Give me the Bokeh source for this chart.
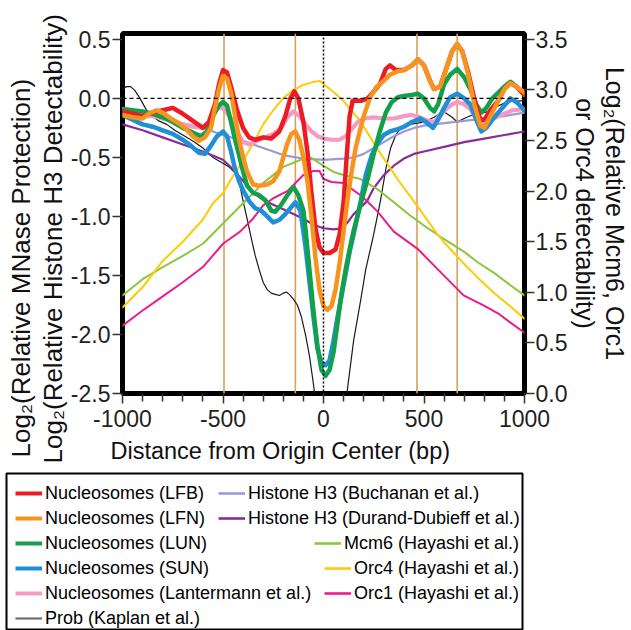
from bokeh.plotting import figure
from bokeh.models import (LinearAxis, Range1d, FixedTicker, Span, Title, Legend,
                          LegendItem, NumeralTickFormatter)
from bokeh.layouts import column
from bokeh.embed import file_html
from bokeh.resources import INLINE

FONT = "Liberation Sans"

# ---------------- data (left axis units unless noted) ----------------
lfb_x = [-1000, -950, -900, -850, -800, -750, -700, -650, -600, -570, -540, -520, -500, -480, -460, -430,
         -400, -370, -340, -300, -260, -220, -190, -165, -145, -125, -100, -80, -60, -40, -20, 0, 30, 60,
         80, 100, 115, 130, 145, 190, 220, 250, 280, 310, 330, 360, 400, 440, 470, 500, 530, 550, 580,
         610, 640, 665, 690, 720, 750, 780, 800, 830, 870, 900, 930, 960, 1000]
lfb_y = [-0.11, -0.13, -0.15, -0.12, -0.10, -0.08, -0.13, -0.19, -0.25, -0.20, -0.05, 0.12, 0.24, 0.22,
         0.10, -0.10, -0.25, -0.33, -0.35, -0.33, -0.34, -0.28, -0.15, 0.00, 0.06, 0.00, -0.20, -0.45,
         -0.80, -1.10, -1.26, -1.31, -1.31, -1.28, -1.15, -0.88, -0.50, -0.15, -0.02, -0.02, 0.00, 0.06,
         0.12, 0.25, 0.28, 0.24, 0.24, 0.28, 0.33, 0.28, 0.15, 0.08, 0.10, 0.25, 0.40, 0.46, 0.40, 0.22,
         0.00, -0.18, -0.18, -0.10, -0.02, 0.08, 0.13, 0.10, 0.03]

lfn_x = [-1000, -950, -900, -870, -830, -800, -760, -720, -690, -650, -620, -590, -560, -540, -520, -500,
         -480, -460, -440, -420, -400, -380, -350, -320, -280, -250, -220, -200, -180, -160, -140, -120,
         -100, -80, -60, -40, -20, 0, 20, 40, 60, 80, 100, 120, 140, 160, 180, 200, 230, 260, 300, 330,
         370, 400, 440, 470, 500, 530, 550, 580, 610, 640, 665, 690, 720, 750, 780, 800, 830, 870, 900,
         930, 960, 1000]
lfn_y = [-0.14, -0.16, -0.17, -0.13, -0.10, -0.12, -0.17, -0.21, -0.25, -0.32, -0.36, -0.33, -0.25,
         -0.08, 0.08, 0.19, 0.17, 0.05, -0.15, -0.35, -0.50, -0.62, -0.73, -0.74, -0.73, -0.70, -0.62,
         -0.50, -0.38, -0.30, -0.28, -0.35, -0.50, -0.70, -1.00, -1.35, -1.62, -1.76, -1.79, -1.76, -1.62,
         -1.40, -1.12, -0.85, -0.62, -0.42, -0.28, -0.15, 0.00, 0.09, 0.15, 0.20, 0.23, 0.24, 0.28, 0.33,
         0.28, 0.15, 0.08, 0.10, 0.25, 0.40, 0.46, 0.40, 0.20, -0.05, -0.23, -0.25, -0.15, -0.02, 0.08,
         0.13, 0.10, 0.05]

lun_x = [-1000, -950, -900, -850, -800, -750, -700, -650, -610, -580, -550, -520, -500, -480, -460, -440,
         -420, -400, -380, -350, -320, -290, -260, -240, -210, -180, -150, -125, -100, -90, -70, -50, -30,
         -10, 10, 30, 50, 70, 90, 110, 130, 150, 184, 220, 250, 280, 310, 340, 370, 400, 440, 470, 500,
         530, 550, 570, 600, 630, 665, 700, 730, 760, 785, 810, 840, 870, 900, 930, 960, 1000]
lun_y = [-0.09, -0.10, -0.11, -0.13, -0.16, -0.20, -0.25, -0.29, -0.32, -0.28, -0.15, -0.06, -0.03,
         -0.06, -0.20, -0.35, -0.48, -0.62, -0.74, -0.80, -0.82, -0.86, -0.95, -0.96, -0.90, -0.82, -0.75,
         -0.82, -0.95, -1.10, -1.45, -1.80, -2.10, -2.30, -2.35, -2.30, -2.15, -1.90, -1.65, -1.45, -1.28,
         -1.12, -0.90, -0.68, -0.47, -0.28, -0.12, -0.03, 0.01, 0.02, 0.03, 0.04, 0.00, -0.08, -0.11,
         -0.05, 0.12, 0.20, 0.25, 0.18, 0.08, -0.05, -0.12, -0.08, 0.00, 0.05, 0.10, 0.14, 0.10, 0.03]

sun_x = [-1000, -950, -900, -850, -800, -750, -700, -660, -620, -590, -560, -530, -500, -480, -460, -440,
         -420, -400, -370, -340, -310, -280, -250, -220, -190, -165, -140, -115, -90, -70, -50, -30, -10,
         10, 30, 50, 70, 100, 130, 150, 184, 210, 240, 270, 300, 330, 370, 400, 440, 480, 510, 545, 570,
         600, 630, 665, 700, 730, 760, 785, 810, 840, 870, 900, 930, 960, 1000]
sun_y = [-0.14, -0.18, -0.22, -0.24, -0.27, -0.30, -0.35, -0.40, -0.46, -0.47, -0.40, -0.32, -0.28,
         -0.32, -0.45, -0.60, -0.70, -0.78, -0.87, -0.93, -0.95, -1.00, -1.05, -1.03, -0.98, -0.93, -0.88,
         -0.95, -1.25, -1.55, -1.85, -2.12, -2.24, -2.26, -2.22, -2.05, -1.85, -1.58, -1.30, -1.15, -0.88,
         -0.65, -0.48, -0.38, -0.31, -0.28, -0.26, -0.24, -0.20, -0.17, -0.20, -0.25, -0.18, -0.08, 0.01,
         0.04, 0.00, -0.05, -0.18, -0.28, -0.25, -0.18, -0.12, -0.06, 0.00, -0.03, -0.10]

lant_x = [-1000, -950, -900, -850, -800, -750, -700, -650, -600, -570, -540, -515, -490, -460, -430, -400,
          -370, -330, -290, -250, -210, -180, -150, -120, -90, -60, -30, 0, 40, 80, 110, 140, 170, 200,
          250, 300, 350, 400, 440, 480, 520, 550, 580, 610, 640, 665, 700, 730, 760, 785, 820, 860, 900,
          940, 1000]
lant_y = [-0.09, -0.12, -0.14, -0.15, -0.17, -0.19, -0.22, -0.24, -0.25, -0.20, -0.10, -0.07, -0.10,
          -0.17, -0.28, -0.37, -0.39, -0.36, -0.33, -0.30, -0.25, -0.16, -0.11, -0.15, -0.22, -0.28, -0.32,
          -0.34, -0.35, -0.35, -0.32, -0.26, -0.20, -0.17, -0.16, -0.17, -0.17, -0.15, -0.14, -0.16, -0.19,
          -0.20, -0.14, -0.09, -0.05, -0.03, -0.05, -0.09, -0.17, -0.22, -0.19, -0.16, -0.13, -0.10, -0.09]

prob_x = [-1000, -980, -960, -940, -920, -900, -880, -860, -820, -780, -740, -700, -650, -600, -550, -500,
          -470, -440, -420, -400, -380, -360, -340, -320, -300, -280, -260, -240, -220, -200, -185, -170,
          -150, -130, -110, -90, -70, -50, -30, 0, 60, 100, 120, 150, 184, 210, 250, 283, 310, 334, 360,
          383, 430, 470, 500, 550, 597, 640, 665, 700, 740, 780, 820, 860, 900, 950, 1000]
prob_y = [0.08, 0.10, 0.10, 0.07, 0.02, -0.04, -0.10, -0.14, -0.19, -0.22, -0.27, -0.31, -0.36, -0.42,
          -0.50, -0.55, -0.58, -0.63, -0.70, -0.87, -1.02, -1.18, -1.33, -1.45, -1.56, -1.62, -1.65,
          -1.66, -1.67, -1.65, -1.64, -1.66, -1.70, -1.75, -1.85, -2.00, -2.18, -2.42, -2.70, -3.00, -3.00,
          -2.75, -2.45, -2.05, -1.72, -1.45, -1.15, -0.87, -0.60, -0.42, -0.31, -0.25, -0.22, -0.21, -0.20,
          -0.16, -0.11, -0.16, -0.20, -0.17, -0.14, -0.13, -0.11, -0.07, -0.04, -0.02, -0.02]

h3b_x = [-1000, -900, -800, -700, -600, -500, -400, -300, -200, -100, 0, 100, 150, 200, 250, 300, 350,
         400, 450, 500, 600, 700, 800, 900, 1000]
h3b_y = [-0.08, -0.12, -0.16, -0.21, -0.25, -0.31, -0.36, -0.42, -0.48, -0.51, -0.52, -0.51, -0.50,
         -0.47, -0.42, -0.37, -0.32, -0.28, -0.25, -0.23, -0.21, -0.19, -0.17, -0.15, -0.12]

h3dd_x = [-1000, -900, -800, -700, -600, -500, -450, -400, -350, -300, -250, -200, -150, -100, -50, 0,
          50, 90, 120, 150, 217, 250, 300, 350, 400, 450, 500, 600, 700, 800, 900, 1000]
h3dd_y = [-0.22, -0.27, -0.33, -0.39, -0.45, -0.52, -0.60, -0.70, -0.80, -0.86, -0.90, -0.94, -0.98,
          -1.02, -1.07, -1.10, -1.11, -1.10, -1.05, -0.98, -0.87, -0.76, -0.65, -0.57, -0.51, -0.47, -0.45,
          -0.41, -0.37, -0.34, -0.31, -0.28]

# right axis units
mcm6_x = [-1000, -900, -800, -700, -600, -500, -400, -300, -200, -100, -60, 0, 50, 100, 184, 268, 350,
          431, 500, 597, 700, 765, 850, 930, 1000]
mcm6_y = [0.97, 1.13, 1.25, 1.36, 1.48, 1.68, 1.88, 2.08, 2.24, 2.32, 2.33, 2.25, 2.19, 2.16, 2.12, 2.02,
          1.89, 1.76, 1.66, 1.53, 1.40, 1.30, 1.19, 1.07, 0.97]

orc4_x = [-1000, -900, -800, -700, -600, -550, -500, -450, -400, -350, -300, -250, -200, -150, -100, -50,
          -20, 0, 50, 100, 184, 268, 368, 468, 550, 597, 700, 765, 850, 930, 1000]
orc4_y = [0.85, 1.05, 1.31, 1.50, 1.72, 1.88, 1.98, 2.15, 2.30, 2.47, 2.66, 2.80, 2.92, 3.00, 3.05, 3.08,
          3.09, 3.06, 2.98, 2.89, 2.69, 2.42, 2.12, 1.85, 1.62, 1.50, 1.28, 1.15, 0.99, 0.86, 0.74]

orc1_x = [-1000, -900, -800, -700, -600, -500, -415, -350, -300, -250, -180, -100, -50, -20, 0, 40, 100,
          184, 217, 268, 350, 468, 597, 697, 796, 870, 930, 1000]
orc1_y = [0.67, 0.82, 0.96, 1.10, 1.25, 1.48, 1.60, 1.73, 1.86, 1.93, 2.00, 2.16, 2.20, 2.20, 2.12, 2.09,
          2.08, 1.96, 1.90, 1.80, 1.60, 1.43, 1.17, 0.97, 0.87, 0.79, 0.70, 0.60]

marker_positions = [-495, -140, 465, 665]
reference_level = 0

x_ticks = [-1000, -500, 0, 500, 1000]
x_tick_labels = ["-1000", "-500", "0", "500", "1000"]
x_minor_ticks = [-900, -800, -700, -600, -400, -300, -200, -100, 100, 200, 300, 400, 600, 700, 800, 900]
y_ticks = [-2.5, -2.0, -1.5, -1.0, -0.5, 0.0, 0.5]
y_tick_labels = ["-2.5", "-2.0", "-1.5", "-1.0", "-0.5", "0.0", "0.5"]
r_ticks = [0.0, 0.5, 1.0, 1.5, 2.0, 2.5, 3.0, 3.5]
r_tick_labels = ["0.0", "0.5", "1.0", "1.5", "2.0", "2.5", "3.0", "3.5"]

# (label, x, y, color, width, axis, legend colour, legend width)
series = [
    ("Prob (Kaplan et al.)", prob_x, prob_y, "#1a1a1a", 1.2, "left", "#6d6d6d", 2.2),
    ("Histone H3 (Buchanan et al.)", h3b_x, h3b_y, "#9c9ad6", 2.2, "left", "#9c9ad6", 2.6),
    ("Histone H3 (Durand-Dubieff et al.)", h3dd_x, h3dd_y, "#8a2c98", 2.2, "left", "#8a2c98", 2.6),
    ("Mcm6 (Hayashi et al.)", mcm6_x, mcm6_y, "#8cc63f", 2.0, "right", "#8cc63f", 2.6),
    ("Orc4 (Hayashi et al.)", orc4_x, orc4_y, "#ffcb05", 2.0, "right", "#ffcb05", 2.6),
    ("Orc1 (Hayashi et al.)", orc1_x, orc1_y, "#ec1c8c", 2.0, "right", "#ec1c8c", 2.6),
    ("Nucleosomes (Lantermann et al.)", lant_x, lant_y, "#f49ac5", 4.2, "left", "#f49ac5", 4.0),
    ("Nucleosomes (SUN)", sun_x, sun_y, "#1f8fd6", 4.5, "left", "#1f8fd6", 4.0),
    ("Nucleosomes (LUN)", lun_x, lun_y, "#13a04b", 4.5, "left", "#13a04b", 4.0),
    ("Nucleosomes (LFB)", lfb_x, lfb_y, "#ec1c24", 4.5, "left", "#ec1c24", 4.0),
    ("Nucleosomes (LFN)", lfn_x, lfn_y, "#f7941d", 4.5, "left", "#f7941d", 4.0),
]

left_legend = ["Nucleosomes (LFB)", "Nucleosomes (LFN)", "Nucleosomes (LUN)", "Nucleosomes (SUN)",
               "Nucleosomes (Lantermann et al.)", "Prob (Kaplan et al.)"]
right_groups = [
    (["Histone H3 (Buchanan et al.)", "Histone H3 (Durand-Dubieff et al.)"], (212, 101)),
    (["Mcm6 (Hayashi et al.)"], (308, 76)),
    (["Orc4 (Hayashi et al.)", "Orc1 (Hayashi et al.)"], (318, 26)),
]

# ---------------- main plot ----------------
Y0, Y1 = -2.5, 0.55
p = figure(width=631, height=472, output_backend="svg", toolbar_location=None,
           x_range=Range1d(-1000, 1000), y_range=Range1d(Y0, Y1),
           min_border_left=122, min_border_right=107, min_border_top=33, min_border_bottom=79)
p.frame_align = False
p.extra_y_ranges = {"right": Range1d(0, (Y1 - Y0) * 3.5 / 3.0)}
p.grid.visible = False
p.outline_line_color = "black"
p.outline_line_width = 5
p.background_fill_color = "white"
p.border_fill_color = "white"

for pos in marker_positions:
    p.add_layout(Span(location=pos, dimension="height", line_color="#d9a15e", line_width=1.6,
                      level="underlay"))

for label, xs, ys, color, w, ax, lc, lw in series:
    kw = {}
    if ax == "right":
        kw["y_range_name"] = "right"
    p.line(xs, ys, line_color=color, line_width=w, line_join="round", line_cap="round", **kw)

p.add_layout(Span(location=reference_level, dimension="width", line_color="black", line_width=1.2,
                  line_dash="4 3"))
p.add_layout(Span(location=reference_level, dimension="height", line_color="black", line_width=1.5,
                  line_dash="2 2"))

right_axis = LinearAxis(y_range_name="right")
p.add_layout(right_axis, "right")


def style_axis(ax, ticks, labels, minor=None, fmt="0.0"):
    ax.ticker = FixedTicker(ticks=ticks, minor_ticks=minor or [])
    ax.formatter = NumeralTickFormatter(format=fmt)
    ax.major_label_overrides = {t: l for t, l in zip(ticks, labels)}
    ax.axis_line_color = None
    ax.major_tick_line_color = "#333333"
    ax.major_tick_line_width = 1.5
    ax.minor_tick_line_color = "#333333"
    ax.minor_tick_line_width = 1.5
    ax.major_tick_in = 0
    ax.minor_tick_in = 0
    ax.major_tick_out = 10
    ax.minor_tick_out = 8
    ax.major_label_text_font = FONT
    ax.major_label_text_font_size = "23px"
    ax.major_label_text_color = "#231f20"


style_axis(p.xaxis[0], x_ticks, x_tick_labels, x_minor_ticks, fmt="0")
p.xaxis[0].major_label_standoff = 6
style_axis(p.yaxis[0], y_ticks, y_tick_labels)
p.yaxis[0].major_label_standoff = 2
style_axis(right_axis, r_ticks, r_tick_labels)
right_axis.major_label_standoff = 1


def side_title(text, size, align="center", offset=0, standoff=0):
    return Title(text=text, align=align, offset=offset, standoff=standoff, text_font=FONT,
                 text_font_size=size, text_font_style="normal", text_color="#111111")


# left: inner line first, then outer line
p.add_layout(side_title("Log\u2082(Relative Histone H3 Detectability)", "26px", "left", -70, 0), "left")
p.add_layout(side_title("Log\u2082(Relative MNase Protection)", "26px", "left", -64, 0), "left")
# right: inner line first, then outer line
p.add_layout(side_title("or Orc4 detectability)", "25px", "center", 0, 0), "right")
p.add_layout(side_title("Log\u2082(Relative Mcm6, Orc1", "25px", "center", 0, 0), "right")
# bottom
p.add_layout(side_title("Distance from Origin Center (bp)", "23.5px", "left", -12, 12), "below")

# ---------------- legend panel ----------------
lg = figure(width=631, height=158, output_backend="svg", toolbar_location=None,
            x_axis_location=None, y_axis_location=None,
            x_range=Range1d(5000, 6000), y_range=Range1d(5000, 6000),
            min_border_left=6, min_border_right=109, min_border_top=1, min_border_bottom=0)
lg.frame_align = False
lg.grid.visible = False
lg.outline_line_color = "black"
lg.outline_line_width = 2
lg.border_fill_color = "white"

proxy = {}
for label, xs, ys, color, w, ax, lc, lw in series:
    proxy[label] = lg.line(xs, ys, line_color=lc, line_width=lw)


def add_legend(labels, loc):
    items = [LegendItem(label=l, renderers=[proxy[l]]) for l in labels]
    L = Legend(items=items, location=loc, orientation="vertical", padding=0, spacing=3, margin=0,
               glyph_width=27, glyph_height=22, label_height=22, label_standoff=3,
               label_text_font=FONT, label_text_font_size="18px", label_text_color="black",
               border_line_color=None, background_fill_alpha=0)
    lg.add_layout(L)


add_legend(left_legend, (9, 1))
for labels, loc in right_groups:
    add_legend(labels, loc)

layout = column(p, lg, spacing=0)
open("out.html", "w").write(file_html(layout, INLINE))
